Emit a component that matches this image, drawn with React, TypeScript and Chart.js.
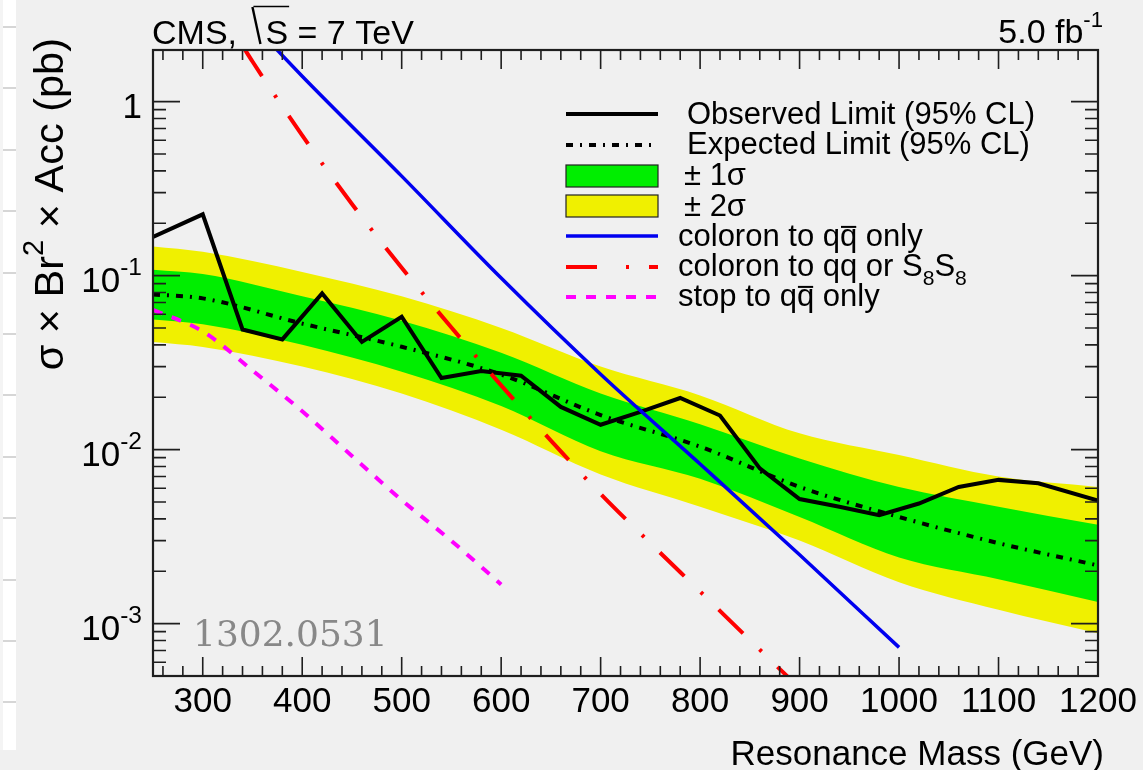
import React, { useEffect, useRef } from 'react';
import { Chart, registerables } from 'chart.js';

Chart.register(...registerables);

// ---------------- data ----------------
const observedMass = [250, 300, 340, 380, 420, 460, 500, 540, 580, 620, 660, 700, 740, 780, 820, 860, 900, 940, 980, 1020, 1060, 1100, 1140, 1200];
const observedLimit = [0.167, 0.225, 0.049, 0.043, 0.079, 0.0416, 0.058, 0.0258, 0.0283, 0.0266, 0.0176, 0.0139, 0.0165, 0.0198, 0.0157, 0.0078, 0.0052, 0.0047, 0.0042, 0.0049, 0.0061, 0.0067, 0.0064, 0.0051];

const bandMass = [250, 300, 400, 500, 600, 700, 800, 900, 1000, 1100, 1200];
const expectedLimit = [0.078, 0.074, 0.053, 0.039, 0.027, 0.0158, 0.0104, 0.0061, 0.0041, 0.0029, 0.00216];
const oneSigmaUp = [0.108, 0.102, 0.076, 0.055, 0.036, 0.021, 0.014, 0.0089, 0.0061, 0.0047, 0.0037];
const oneSigmaDown = [0.056, 0.0526, 0.04, 0.028, 0.0178, 0.0098, 0.0068, 0.0041, 0.0024, 0.0018, 0.00133];
const twoSigmaUp = [0.147, 0.137, 0.105, 0.076, 0.05, 0.03, 0.0205, 0.0124, 0.0093, 0.007, 0.0061];
const twoSigmaDown = [0.0415, 0.0389, 0.03, 0.021, 0.013, 0.0072, 0.0047, 0.003, 0.00173, 0.0012, 0.00088];

const coloronQQMass = [350, 400, 500, 600, 700, 800, 900, 1000];
const coloronQQ = [2.8, 1.4, 0.373, 0.0968, 0.0271, 0.00826, 0.00249, 0.00073];

const coloronS8Mass = [341, 350, 400, 450, 500, 550, 600, 650, 700, 750, 800, 850, 900];
const coloronS8 = [2.05, 1.7, 0.64, 0.258, 0.111, 0.0503, 0.0234, 0.01127, 0.00556, 0.0029, 0.00153, 0.000805, 0.000425];

const stopMass = [250, 300, 350, 400, 450, 500, 550, 600];
const stopQQ = [0.0635, 0.0478, 0.0285, 0.0166, 0.0092, 0.00513, 0.00299, 0.00168];

const xTickValues = [300, 400, 500, 600, 700, 800, 900, 1000, 1100, 1200];
const xTickLabels = ['300', '400', '500', '600', '700', '800', '900', '1000', '1100', '1200'];
const yTickValues = [0.001, 0.01, 0.1, 1];
const yTickLabels = ['10^{-3}', '10^{-2}', '10^{-1}', '1'];

const legendLabels = [
  'Observed Limit (95% CL)',
  'Expected Limit (95% CL)',
  '\u00B1 1\u03C3',
  '\u00B1 2\u03C3',
  'coloron to q#bar{q} only',
  'coloron to qq or S_{8}S_{8}',
  'stop to q#bar{q} only',
];

const titleLeft = 'CMS, ';
const titleSqrt = 'S';
const titleRest = ' = 7 TeV';
const lumiLabel = '5.0 fb^{-1}';
const xTitle = 'Resonance Mass (GeV)';
const yTitle = '\u03C3 \u00D7 Br^{2} \u00D7 Acc (pb)';
const watermark = '1302.0531';

// ---------------- helpers ----------------
const W = 1143;
const H = 770;
const FONT = '"Liberation Sans", Arial, Helvetica, sans-serif';

const GREEN = '#00ee00';
const YELLOW = '#f0f000';
const BLUE = '#0000f0';
const RED = '#ff0000';
const MAGENTA = '#ff00ff';
const DASH_EXP = [7, 7, 2, 7];
const DASH_RED = [34, 23, 3, 22];
const DASH_MAG = [10, 10];

type Seg = { t: string; k: 'n' | 'sup' | 'sub' | 'bar' };

function parseRich(s: string): Seg[] {
  const segs: Seg[] = [];
  let buf = '';
  let i = 0;
  const flush = () => {
    if (buf) {
      segs.push({ t: buf, k: 'n' });
      buf = '';
    }
  };
  while (i < s.length) {
    if (s.startsWith('^{', i) || s.startsWith('_{', i) || s.startsWith('#bar{', i)) {
      flush();
      const k: Seg['k'] = s[i] === '^' ? 'sup' : s[i] === '_' ? 'sub' : 'bar';
      const start = s.indexOf('{', i) + 1;
      const end = s.indexOf('}', start);
      segs.push({ t: s.slice(start, end), k });
      i = end + 1;
    } else {
      buf += s[i];
      i++;
    }
  }
  flush();
  return segs;
}

function drawRich(
  ctx: CanvasRenderingContext2D,
  s: string,
  x: number,
  y: number,
  size: number,
  align: 'left' | 'right' | 'center',
  small = 0.7,
) {
  const segs = parseRich(s);
  const sizes = segs.map((sg) => (sg.k === 'sup' || sg.k === 'sub' ? size * small : size));
  const widths = segs.map((sg, i) => {
    ctx.font = `${sizes[i]}px ${FONT}`;
    return ctx.measureText(sg.t).width;
  });
  const total = widths.reduce((a, b) => a + b, 0);
  let cx = align === 'right' ? x - total : align === 'center' ? x - total / 2 : x;
  ctx.textAlign = 'left';
  ctx.textBaseline = 'alphabetic';
  segs.forEach((sg, i) => {
    ctx.font = `${sizes[i]}px ${FONT}`;
    const dy = sg.k === 'sup' ? -size * 0.47 : sg.k === 'sub' ? size * 0.3 : 0;
    ctx.fillText(sg.t, cx, y + dy);
    if (sg.k === 'bar') {
      ctx.save();
      ctx.strokeStyle = ctx.fillStyle as string;
      ctx.lineWidth = Math.max(1.5, size * 0.065);
      ctx.beginPath();
      ctx.moveTo(cx + 1, y - size * 0.6);
      ctx.lineTo(cx + widths[i] - 1, y - size * 0.6);
      ctx.stroke();
      ctx.restore();
    }
    cx += widths[i];
  });
  return total;
}

const rootStyle = {
  id: 'rootStyle',
  beforeDraw(chart: any) {
    const ctx: CanvasRenderingContext2D = chart.ctx;
    ctx.save();
    ctx.fillStyle = '#f0f0f0';
    ctx.fillRect(0, 0, chart.width, chart.height);
    // white strip on the left edge
    ctx.fillStyle = '#ffffff';
    ctx.fillRect(0, 0, 16, 750);
    ctx.fillStyle = '#f4f4f4';
    ctx.fillRect(0, 0, 3, 750);
    ctx.strokeStyle = '#d6d6d6';
    ctx.lineWidth = 2;
    [27, 88, 150, 211, 273, 334, 395, 457, 518, 580, 641, 702].forEach((y) => {
      ctx.beginPath();
      ctx.moveTo(3, y);
      ctx.lineTo(16, y);
      ctx.stroke();
    });
    ctx.restore();
  },
  afterDraw(chart: any) {
    const ctx: CanvasRenderingContext2D = chart.ctx;
    const a = chart.chartArea;
    const xs = chart.scales.x;
    const ys = chart.scales.y;
    ctx.save();

    // watermark
    ctx.fillStyle = '#888888';
    ctx.font = `36px "DejaVu Serif", serif`;
    ctx.textAlign = 'left';
    ctx.textBaseline = 'alphabetic';
    ctx.fillText(watermark, 193, 646);

    // ticks
    ctx.strokeStyle = '#1e1e1e';
    ctx.lineWidth = 1.6;
    ctx.beginPath();
    for (let m = 260; m < 1200; m += 20) {
      const px = xs.getPixelForValue(m);
      const len = m % 100 === 0 ? 19 : 10;
      ctx.moveTo(px, a.bottom);
      ctx.lineTo(px, a.bottom - len);
      ctx.moveTo(px, a.top);
      ctx.lineTo(px, a.top + len);
    }
    for (let d = -4; d <= 0; d++) {
      for (let k = 1; k <= 9; k++) {
        const v = k * Math.pow(10, d);
        if (v < ys.min * 0.999 || v > ys.max * 1.001) continue;
        const py = ys.getPixelForValue(v);
        const len = k === 1 ? 27 : 13;
        ctx.moveTo(a.left, py);
        ctx.lineTo(a.left + len, py);
        ctx.moveTo(a.right, py);
        ctx.lineTo(a.right - len, py);
      }
    }
    ctx.stroke();

    // frame
    ctx.lineWidth = 2.2;
    ctx.strokeStyle = '#1e1e1e';
    ctx.strokeRect(a.left, a.top, a.right - a.left, a.bottom - a.top);

    // tick labels
    ctx.fillStyle = '#000';
    xTickValues.forEach((v, i) => {
      drawRich(ctx, xTickLabels[i], xs.getPixelForValue(v), 712, 35, 'center');
    });
    yTickValues.forEach((v, i) => {
      const py = ys.getPixelForValue(v);
      drawRich(ctx, yTickLabels[i], 142, py + 16, 35, 'right', 0.7);
    });

    // axis titles
    drawRich(ctx, xTitle, 1104, 765, 35, 'right');
    ctx.save();
    ctx.translate(63, 38);
    ctx.rotate(-Math.PI / 2);
    drawRich(ctx, yTitle, 0, 0, 41.5, 'right', 0.7);
    ctx.restore();

    // top texts
    ctx.font = `34px ${FONT}`;
    ctx.textAlign = 'left';
    ctx.fillText(titleLeft, 152, 44);
    const w0 = ctx.measureText(titleLeft).width;
    const rx = 152 + w0 + 6;
    ctx.lineWidth = 2.4;
    ctx.strokeStyle = '#000';
    ctx.beginPath();
    ctx.moveTo(rx, 7);
    ctx.lineTo(rx + 8, 44);
    ctx.stroke();
    const sx = rx + 13;
    ctx.fillText(titleSqrt, sx, 44);
    const ws = ctx.measureText(titleSqrt).width;
    ctx.lineWidth = 1.6;
    ctx.beginPath();
    ctx.moveTo(rx + 1, 6.5);
    ctx.lineTo(sx + ws + 1, 6.5);
    ctx.stroke();
    ctx.fillText(titleRest, sx + ws, 44);

    drawRich(ctx, lumiLabel, 1103, 43, 34, 'right', 0.65);

    // legend
    const lx0 = 566;
    const lx1 = 658;
    const sampleY = [114, 145, 176, 206, 236, 267, 297];
    const textX = [687, 687, 684, 684, 678, 678, 678];
    const textY = [123.5, 154, 185, 215.5, 245.5, 275.5, 305.5];
    const drawSample = (i: number, color: string, width: number, dash: number[]) => {
      ctx.save();
      ctx.strokeStyle = color;
      ctx.lineWidth = width;
      ctx.setLineDash(dash);
      ctx.beginPath();
      ctx.moveTo(lx0, sampleY[i]);
      ctx.lineTo(lx1, sampleY[i]);
      ctx.stroke();
      ctx.restore();
    };
    const drawBox = (i: number, color: string) => {
      ctx.save();
      ctx.fillStyle = color;
      ctx.fillRect(lx0, sampleY[i] - 11, lx1 - lx0, 22);
      ctx.strokeStyle = '#222';
      ctx.lineWidth = 1.2;
      ctx.strokeRect(lx0, sampleY[i] - 11, lx1 - lx0, 22);
      ctx.restore();
    };
    drawSample(0, '#000', 4, []);
    drawSample(1, '#000', 4, DASH_EXP);
    drawBox(2, GREEN);
    drawBox(3, YELLOW);
    drawSample(4, BLUE, 3.5, []);
    drawSample(5, RED, 4, [31, 29, 3, 20]);
    drawSample(6, MAGENTA, 4, DASH_MAG);
    ctx.fillStyle = '#000';
    legendLabels.forEach((t, i) => {
      drawRich(ctx, t, textX[i], textY[i], 31, 'left', 0.68);
    });

    ctx.restore();
  },
};

const pts = (xs: number[], ys: number[]) => xs.map((x, i) => ({ x, y: ys[i] }));

export default function App() {
  const ref = useRef<HTMLCanvasElement>(null);
  useEffect(() => {
    const transparent = 'rgba(0,0,0,0)';
    const band = (data: number[], color: string, fill: any, order: number) => ({
      data: pts(bandMass, data),
      borderColor: transparent,
      borderWidth: 0,
      backgroundColor: color,
      fill,
      order,
      pointRadius: 0,
      cubicInterpolationMode: 'monotone' as const,
    });
    const chart = new Chart(ref.current!, {
      type: 'line',
      data: {
        datasets: [
          band(twoSigmaUp, YELLOW, '+1', 10),
          band(twoSigmaDown, YELLOW, false, 10),
          band(oneSigmaUp, GREEN, '+1', 9),
          band(oneSigmaDown, GREEN, false, 9),
          {
            data: pts(bandMass, expectedLimit),
            borderColor: '#000',
            borderWidth: 4,
            borderDash: DASH_EXP,
            fill: false,
            order: 5,
            pointRadius: 0,
            cubicInterpolationMode: 'monotone',
          },
          {
            data: pts(observedMass, observedLimit),
            borderColor: '#000',
            borderWidth: 4,
            fill: false,
            order: 4,
            pointRadius: 0,
            tension: 0,
          },
          {
            data: pts(coloronQQMass, coloronQQ),
            borderColor: BLUE,
            borderWidth: 3.5,
            fill: false,
            order: 3,
            pointRadius: 0,
            cubicInterpolationMode: 'monotone',
          },
          {
            data: pts(coloronS8Mass, coloronS8),
            borderColor: RED,
            borderWidth: 4,
            borderDash: DASH_RED,
            fill: false,
            order: 2,
            pointRadius: 0,
            cubicInterpolationMode: 'monotone',
          },
          {
            data: pts(stopMass, stopQQ),
            borderColor: MAGENTA,
            borderWidth: 4,
            borderDash: DASH_MAG,
            fill: false,
            order: 1,
            pointRadius: 0,
            cubicInterpolationMode: 'monotone',
          },
        ],
      },
      options: {
        animation: false,
        responsive: false,
        maintainAspectRatio: false,
        layout: { padding: { left: 153, right: 45, top: 50, bottom: 94 } },
        scales: {
          x: { type: 'linear', min: 250, max: 1200, display: false },
          y: { type: 'logarithmic', min: 0.0005, max: 1.98, display: false },
        },
        plugins: {
          legend: { display: false },
          tooltip: { enabled: false },
        },
        events: [],
      },
      plugins: [rootStyle],
    } as any);
    return () => chart.destroy();
  }, []);
  return (
    <div style={{ position: 'fixed', left: 0, top: 0, width: W, height: H, background: '#f0f0f0' }}>
      <canvas ref={ref} width={W} height={H} style={{ display: 'block', width: W, height: H }} />
    </div>
  );
}
